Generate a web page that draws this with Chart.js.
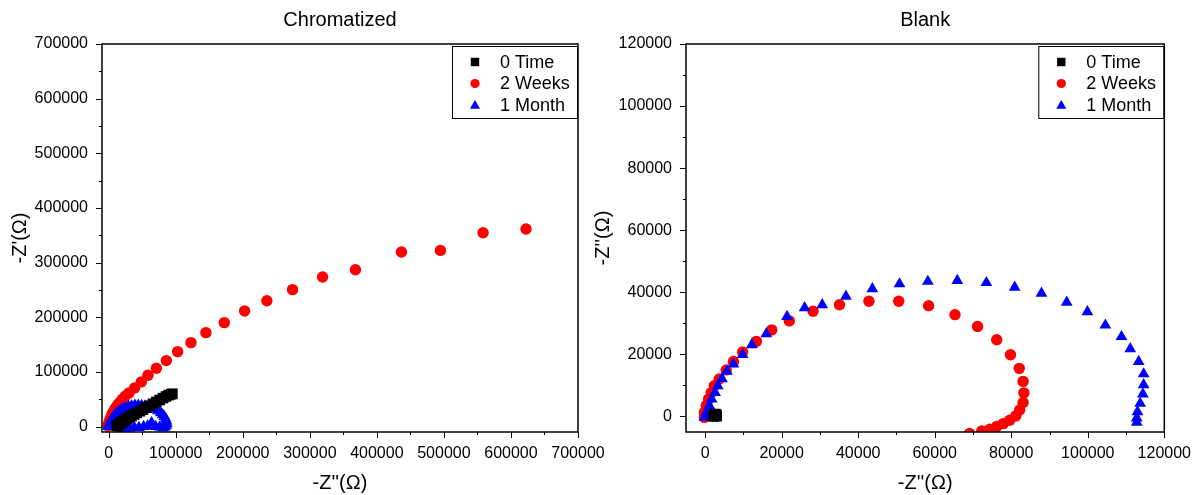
<!DOCTYPE html>
<html>
<head>
<meta charset="utf-8">
<script src="https://cdn.jsdelivr.net/npm/chart.js@4.4.1/dist/chart.umd.min.js"></script>
<style>
  html, body { margin: 0; padding: 0; background: #fff; }
  body { width: 1203px; height: 495px; position: relative; overflow: hidden; }
  canvas { position: absolute; top: 0; }
  #chromChart { left: 0; }
  #blankChart { left: 580px; }
</style>
</head>
<body>
<canvas id="chromChart" width="640" height="495"></canvas>
<canvas id="blankChart" width="623" height="495"></canvas>
<script>
const seriesNames = ['0 Time', '2 Weeks', '1 Month'];
const seriesColors = ['#000000', '#ff0000', '#0000ff'];

// Chromatized panel
const chromTicks = [0, 100000, 200000, 300000, 400000, 500000, 600000, 700000];
const chromTime0X = [12000, 14000, 16000, 18500, 21000, 24000, 27000, 30500, 34000, 38000, 42000, 46500, 51000, 56000, 61000, 66000, 71000, 76000, 81000, 85500, 89500, 93000, 95000];
const chromTime0Y = [1000, 3000, 5000, 7000, 9000, 11500, 14000, 16500, 19000, 22000, 25000, 28000, 31000, 34500, 38000, 41500, 45000, 48500, 52000, 55000, 57500, 59000, 60000];
const chromWeek2X = [-1000, 0, 800, 2000, 3500, 5000, 7000, 9000, 11500, 14000, 17000, 20500, 24500, 30300, 38700, 48700, 58600, 71100, 86000, 102800, 122700, 145000, 172400, 202700, 235900, 274200, 319000, 368000, 436700, 494800, 558400, 622500];
const chromWeek2Y = [1000, 5000, 9000, 13500, 18000, 22500, 27000, 31500, 36000, 40500, 45000, 50000, 55500, 61600, 70700, 81700, 93800, 106600, 120700, 137100, 153600, 171800, 190100, 211500, 230300, 250500, 273700, 287000, 319400, 322300, 354700, 361400];
const chromMonth1X = [0, 500, 1500, 2500, 4000, 5500, 7500, 9500, 12000, 14500, 17500, 21000, 25000, 29500, 34000, 39000, 44000, 49000, 54000, 59000, 64000, 69000, 73500, 77500, 80500, 83000, 85000, 86000, 86500, 86000, 84000, 81000, 76000, 70000, 64000, 58000, 52000, 45000, 38000, 31000, 24000, 19000];
const chromMonth1Y = [0, 3000, 6000, 9000, 12000, 15000, 18000, 21000, 24000, 27000, 30000, 32500, 34500, 36500, 38000, 39000, 39000, 38500, 37500, 36000, 34000, 31500, 28500, 25000, 21500, 18000, 14000, 10000, 6000, 2000, -1000, -3000, -1000, 0, 7000, 1000, 0, -2000, -1000, -3000, -4000, -5000];

// Blank panel
const blankTicks = [0, 20000, 40000, 60000, 80000, 100000, 120000];
const blankTime0X = [2200, 2300, 2400, 2600, 2800, 2900, 3000];
const blankTime0Y = [0, 300, 600, 800, 700, 400, 100];
const blankWeek2X = [-200, -200, 300, 900, 1600, 2400, 3700, 5500, 7400, 9800, 13400, 17400, 22000, 28200, 35100, 42800, 50600, 58400, 65300, 71200, 76200, 79800, 82100, 83100, 83300, 83100, 82200, 81200, 79600, 77900, 76200, 74400, 72300, 69100];
const blankWeek2Y = [-300, 1300, 3500, 5600, 7700, 9900, 12100, 15000, 17700, 20800, 24200, 27900, 30800, 33900, 36000, 37100, 37100, 35700, 32800, 29000, 24700, 19900, 15500, 11300, 7600, 4500, 2100, 200, -1200, -2300, -3200, -4100, -4700, -5500];
const blankMonth1X = [-200, 300, 1100, 1700, 2600, 3300, 4400, 5700, 7400, 9800, 12200, 16000, 21400, 26000, 30600, 36800, 43700, 50800, 58200, 65900, 73500, 80900, 87900, 94500, 99900, 104600, 108800, 111100, 113300, 114600, 114600, 114400, 113700, 113000, 112800, 112800];
const blankMonth1Y = [-300, 1300, 3500, 5600, 7700, 9900, 12100, 14500, 16900, 19900, 23100, 26600, 32200, 35000, 36000, 38700, 41100, 42700, 43500, 43800, 43100, 41600, 39700, 36800, 33700, 29400, 25700, 21800, 17700, 13700, 10200, 7200, 4200, 1500, -500, -1900];

const FONT = '"Liberation Sans", Arial, sans-serif';

function zip(xs, ys) {
    return xs.map((x, i) => ({ x: x, y: ys[i] }));
}

function drawMarker(ctx, style, x, y, s) {
    ctx.beginPath();
    if (style === 'rect') {
        ctx.rect(x - s, y - s, 2 * s, 2 * s);
    } else if (style === 'circle') {
        ctx.arc(x, y, s, 0, Math.PI * 2);
    } else {
        ctx.moveTo(x, y - s * 1.1);
        ctx.lineTo(x + s * 1.1, y + s * 0.8);
        ctx.lineTo(x - s * 1.1, y + s * 0.8);
        ctx.closePath();
    }
    ctx.fill();
}

// frame, Origin-style ticks, panel title and boxed legend
const panelDecor = {
    id: 'panelDecor',
    afterDatasetsDraw(chart, args, opts) {
        const { ctx, chartArea: a, scales } = chart;
        ctx.save();
        ctx.strokeStyle = '#000';
        ctx.lineWidth = 1;

        const major = opts.ticks;
        const minor = major.slice(1).map((v, i) => (v + major[i]) / 2);
        ctx.beginPath();
        major.forEach(v => {
            const px = Math.round(scales.x.getPixelForValue(v)) + 0.5;
            ctx.moveTo(px, a.bottom); ctx.lineTo(px, a.bottom + 6);
            const py = Math.round(scales.y.getPixelForValue(v)) + 0.5;
            ctx.moveTo(a.left, py); ctx.lineTo(a.left - 6, py);
        });
        minor.forEach(v => {
            const px = Math.round(scales.x.getPixelForValue(v)) + 0.5;
            ctx.moveTo(px, a.bottom); ctx.lineTo(px, a.bottom + 3);
            const py = Math.round(scales.y.getPixelForValue(v)) + 0.5;
            ctx.moveTo(a.left, py); ctx.lineTo(a.left - 3, py);
        });
        ctx.stroke();

        ctx.lineWidth = 1.5;
        ctx.strokeRect(a.left, a.top, a.right - a.left, a.bottom - a.top);

        ctx.fillStyle = '#000';
        ctx.font = `20px ${FONT}`;
        ctx.textAlign = 'center';
        ctx.textBaseline = 'middle';
        ctx.fillText(opts.title, (a.left + a.right) / 2, 20);

        // legend box
        const bw = 125, bh = 72;
        const bx = a.right - bw - 1, by = a.top + 2;
        ctx.fillStyle = '#fff';
        ctx.fillRect(bx, by, bw, bh);
        ctx.lineWidth = 1;
        ctx.strokeStyle = '#000';
        ctx.strokeRect(bx + 0.5, by + 0.5, bw, bh);
        ctx.textAlign = 'left';
        ctx.font = `18px ${FONT}`;
        chart.data.datasets.forEach((ds, i) => {
            const ry = by + 16 + i * 21.5;
            ctx.fillStyle = ds.backgroundColor;
            drawMarker(ctx, ds.pointStyle, bx + 23, ry, ds.pointStyle === 'rect' ? 4.2 : 4.6);
            ctx.fillStyle = '#000';
            ctx.fillText(ds.label, bx + 48, ry + 1);
        });
        ctx.restore();
    }
};

function buildPanel(canvasId, p) {
    const ctx = document.getElementById(canvasId).getContext('2d');
    const tickFont = { family: FONT, size: 16 };
    const titleFont = { family: FONT, size: 20 };
    return new Chart(ctx, {
        type: 'scatter',
        data: {
            datasets: [
                { label: seriesNames[0], data: zip(p.x0, p.y0), pointStyle: 'rect', pointRadius: 7.5, backgroundColor: seriesColors[0], borderWidth: 0, order: 0, clip: 0 },
                { label: seriesNames[1], data: zip(p.x1, p.y1), pointStyle: 'circle', pointRadius: 5.7, backgroundColor: seriesColors[1], borderWidth: 0, order: 2, clip: 0 },
                { label: seriesNames[2], data: zip(p.x2, p.y2), pointStyle: 'triangle', pointRadius: 6.8, backgroundColor: seriesColors[2], borderWidth: 0, order: 1, clip: 0 }
            ]
        },
        options: {
            responsive: false,
            animation: false,
            events: [],
            layout: { padding: { left: 0, top: 44, right: p.padRight, bottom: 0 } },
            scales: {
                x: {
                    type: 'linear',
                    min: p.min, max: p.max,
                    afterBuildTicks: s => { s.ticks = p.ticks.map(v => ({ value: v })); },
                    afterFit: s => { s.height = 63; },
                    grid: { display: false, drawTicks: false },
                    border: { display: false },
                    ticks: { color: '#000', font: tickFont, padding: 12, maxRotation: 0, autoSkip: false, callback: v => String(v) },
                    title: { display: true, text: "-Z''(Ω)", color: '#000', font: titleFont, padding: { top: 0, bottom: 0 } }
                },
                y: {
                    type: 'linear',
                    min: p.min, max: p.max,
                    afterBuildTicks: s => { s.ticks = p.ticks.map(v => ({ value: v })); },
                    afterFit: s => { s.width = p.yWidth; },
                    grid: { display: false, drawTicks: false },
                    border: { display: false },
                    ticks: { color: '#000', font: tickFont, padding: 14, autoSkip: false, callback: v => String(v) },
                    title: { display: true, text: p.yTitle, color: '#000', font: titleFont, padding: { top: p.yTitlePad, bottom: 0 } }
                }
            },
            plugins: {
                legend: { display: false },
                tooltip: { enabled: false },
                panelDecor: { title: p.title, ticks: p.ticks }
            }
        },
        plugins: [panelDecor]
    });
}

buildPanel('chromChart', {
    title: 'Chromatized', yTitle: "-Z'(Ω)",
    x0: chromTime0X, y0: chromTime0Y, x1: chromWeek2X, y1: chromWeek2Y, x2: chromMonth1X, y2: chromMonth1Y,
    ticks: chromTicks, min: -10000, max: 700000,
    yWidth: 102, yTitlePad: 8, padRight: 62
});

buildPanel('blankChart', {
    title: 'Blank', yTitle: "-Z''(Ω)",
    x0: blankTime0X, y0: blankTime0Y, x1: blankWeek2X, y1: blankWeek2Y, x2: blankMonth1X, y2: blankMonth1Y,
    ticks: blankTicks, min: -5000, max: 120000,
    yWidth: 106, yTitlePad: 11, padRight: 38
});
</script>
</body>
</html>
